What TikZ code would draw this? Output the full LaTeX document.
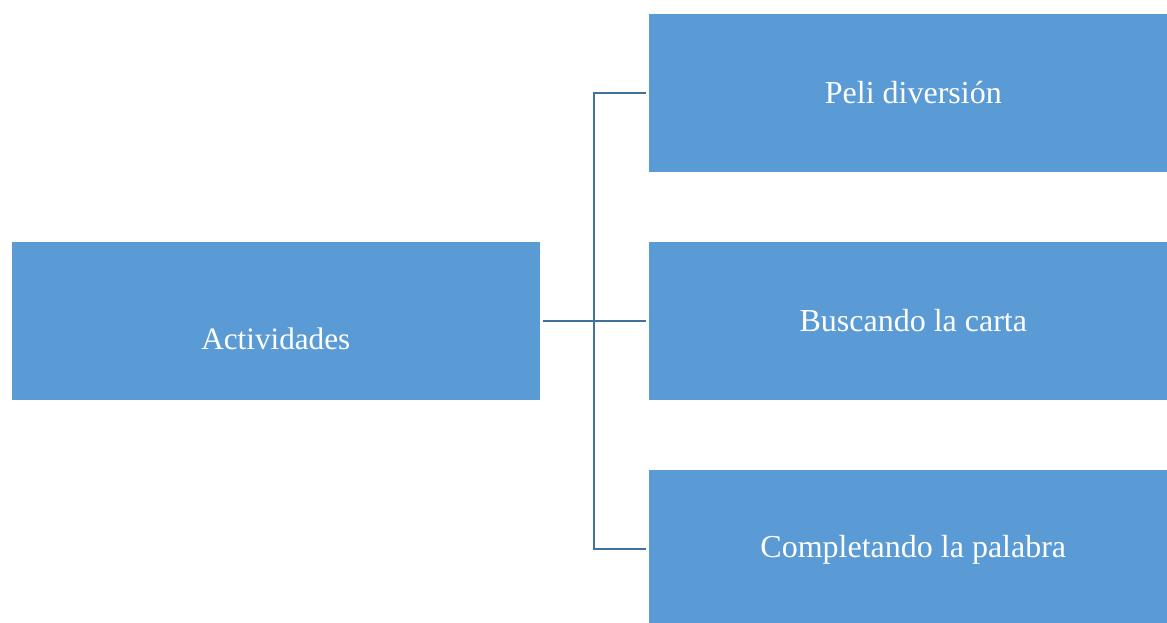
\documentclass[tikz,border=0pt]{standalone}
\usepackage{fontspec}
\setmainfont{Liberation Serif}
\definecolor{boxblue}{HTML}{5B9BD5}
\definecolor{lineblue}{HTML}{41719C}
\begin{document}
\begin{tikzpicture}[x=0.75pt,y=-0.75pt,
  box/.style={rectangle,fill=boxblue,draw=none,inner sep=0pt,outer sep=0pt,
    minimum width=396pt,minimum height=119pt,text=white,
    font=\fontsize{24}{28}\selectfont},
  boxtext/.style={inner sep=0pt,text=white,font=\fontsize{23.4}{28}\selectfont},
  conn/.style={draw=lineblue,line width=1.6pt}]
\useasboundingbox (0,0) rectangle (1167,622);
\clip (0,0) rectangle (1167,622);
\fill[white] (0,0) rectangle (1167,622);
\node[box] (a) at (275.8,321) {};
\node[boxtext] (atext) at ([yshift=-13.5pt]a.center) {Actividades};
\node[box] (r1) at (913.3,93) {Peli diversión};
\node[box] (r2) at (913.3,321) {Buscando la carta};
\node[box] (r3) at (913.3,549.3) {Completando la palabra};
\coordinate (sp) at (594.3,321);
\draw[conn] ([xshift=-2.25pt]r1.west) -| (sp) |- ([xshift=-2.25pt]r3.west);
\draw[conn] ([xshift=2.25pt]a.east) -- ([xshift=-2.25pt]r2.west);
\end{tikzpicture}
\end{document}
